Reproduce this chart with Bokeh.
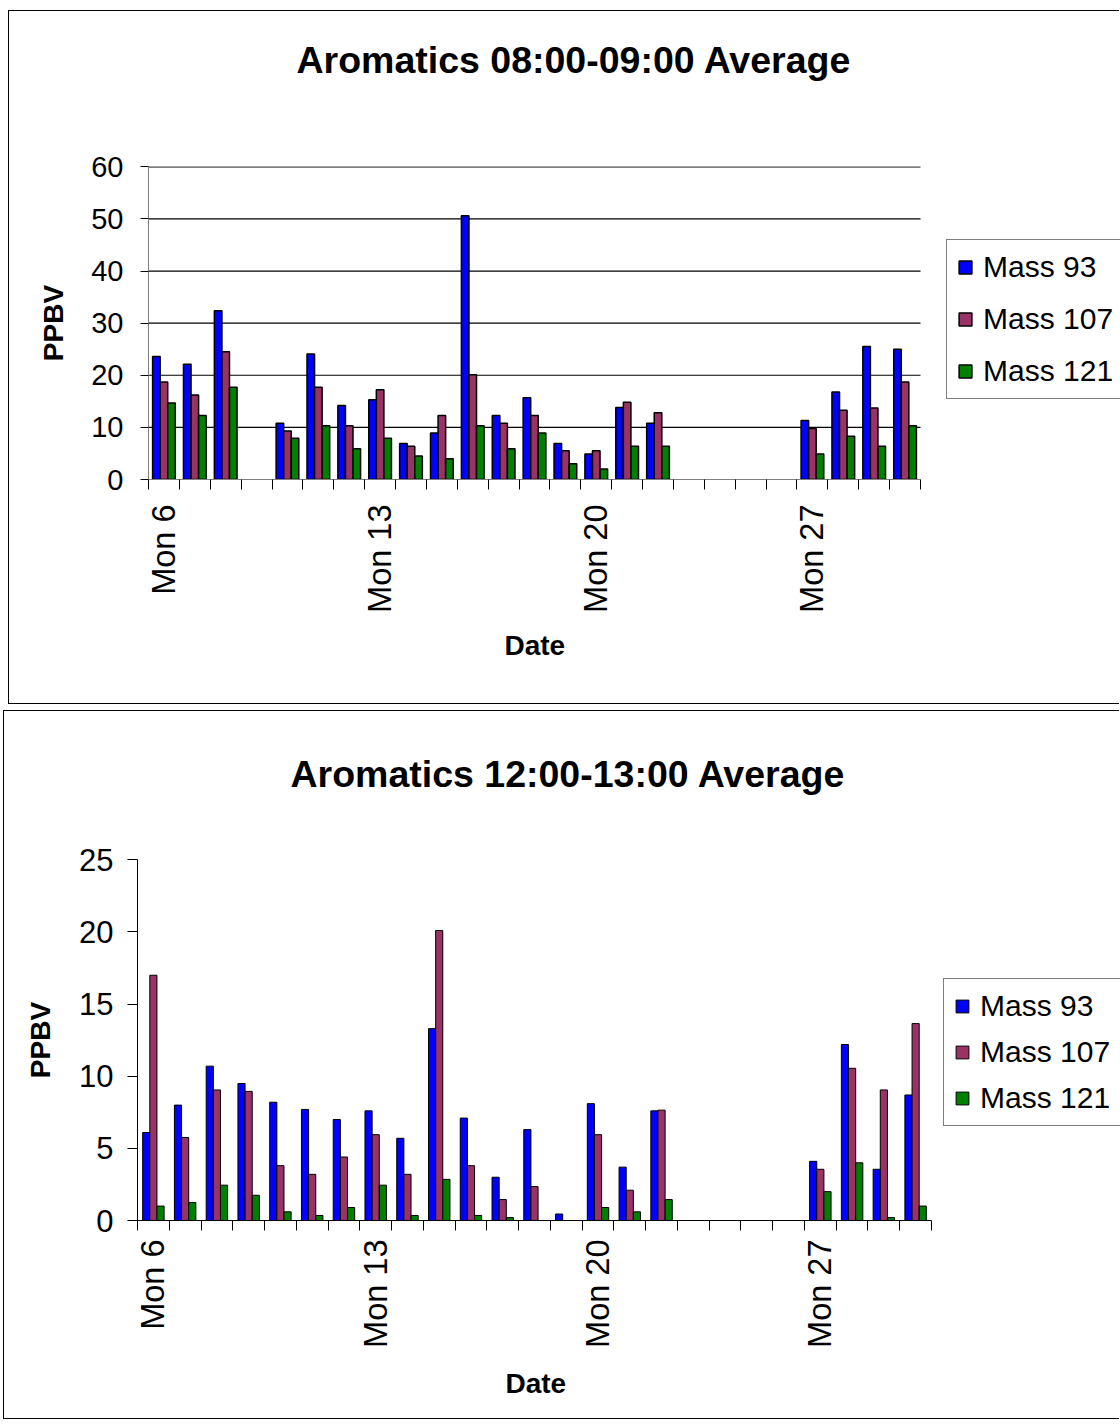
import math

from bokeh.embed import file_html
from bokeh.layouts import column
from bokeh.models import (ColumnDataSource, FixedTicker, Legend, LegendItem,
                          Range1d, Title)
from bokeh.plotting import figure
from bokeh.resources import INLINE

# ---- data -------------------------------------------------------------
days = list(range(6, 31))
tick_days = [6, 13, 20, 27]
tick_labels = ["Mon 6", "Mon 13", "Mon 20", "Mon 27"]
series_names = ["Mass 93", "Mass 107", "Mass 121"]
series_colors = ["#0000FF", "#993366", "#008000"]

# 08:00-09:00 hourly averages, PPBV (None = no measurement that day)
am_mass93 = [23.6, 22.1, 32.4, None, 10.8, 24.1, 14.2, 15.3, 6.9, 8.9, 50.6,
             12.3, 15.7, 6.9, 4.9, 13.8, 10.8, None, None, None, None,
             11.3, 16.8, 25.5, 25.0]
am_mass107 = [18.7, 16.2, 24.5, None, 9.3, 17.7, 10.3, 17.2, 6.4, 12.3, 20.1,
              10.8, 12.3, 5.5, 5.5, 14.8, 12.8, None, None, None, None,
              9.8, 13.3, 13.7, 18.7]
am_mass121 = [14.7, 12.3, 17.7, None, 7.9, 10.3, 5.9, 7.9, 4.5, 4.0, 10.3,
              5.9, 8.9, 3.0, 2.0, 6.4, 6.4, None, None, None, None,
              4.9, 8.3, 6.4, 10.3]

# 12:00-13:00 hourly averages, PPBV
pm_mass93 = [6.1, 8.0, 10.7, 9.5, 8.2, 7.7, 7.0, 7.6, 5.7, 13.3, 7.1,
             3.0, 6.3, 0.45, 8.1, 3.7, 7.6, None, None, None, None,
             4.1, 12.2, 3.55, 8.7]
pm_mass107 = [17.0, 5.75, 9.05, 8.95, 3.8, 3.2, 4.4, 5.95, 3.2, 20.1, 3.8,
              1.45, 2.35, None, 5.95, 2.1, 7.65, None, None, None, None,
              3.55, 10.55, 9.05, 13.65]
pm_mass121 = [1.0, 1.25, 2.45, 1.75, 0.6, 0.35, 0.9, 2.45, 0.35, 2.85, 0.35,
              0.2, None, None, 0.9, 0.6, 1.45, None, None, None, None,
              2.0, 4.0, 0.2, 1.0]

FONT = "Liberation Sans"


def make_panel(title, series, ymax, ystep, *, width, height, left, top,
               bottom, axis_px, margin, bar_w, bar_line, grid, axis_color,
               title_offset, title_gap, legend_xy, legend_spacing, tick_font,
               ylabel_standoff, tick_out, ytick_standoff, xtick_standoff,
               date_offset, date_gap):
    x0, x1 = days[0] - 0.5, days[-1] + 0.5
    # the plot area runs to the right edge so the legend can sit beside the
    # day axis; the axis itself is bounded to the measured days
    frame_w = width - left
    x_end = x0 + (x1 - x0) * frame_w / axis_px
    p = figure(width=width, height=height, output_backend="svg",
               toolbar_location=None, tools="",
               x_range=Range1d(x0, x_end), y_range=Range1d(0, ymax * 1.001),
               min_border_left=left, min_border_right=0,
               min_border_top=top, min_border_bottom=bottom)
    p.frame_align = False
    p.margin = margin
    p.styles = {"border-left": "1px solid black",
                "border-top": "1px solid black",
                "border-bottom": "1px solid black"}
    p.outline_line_color = None
    p.background_fill_color = "white"
    p.border_fill_color = "white"

    # chart title, kept clear of the plot area by an empty spacer title
    p.title = Title(text=title, align="left", offset=title_offset,
                    vertical_align="bottom", standoff=10, text_font=FONT,
                    text_font_size="37.5px", text_font_style="bold",
                    text_color="black")
    p.add_layout(Title(text=" ", text_font_size="1px", standoff=title_gap),
                 "above")

    yticks = list(range(0, ymax + 1, ystep))
    if grid:
        gl = [t for t in yticks if t > 0]
        p.segment(x0=[x0] * len(gl), x1=[x1] * len(gl), y0=gl, y1=gl,
                  line_color="black", line_width=1.2)

    items = []
    for k, (name, color, vals) in enumerate(zip(series_names, series_colors, series)):
        xs, tops = [], []
        for d, v in zip(days, vals):
            if v is not None:
                xs.append(d + (k - 1) * bar_w)
                tops.append(v)
        src = ColumnDataSource(dict(x=xs, top=tops))
        r = p.vbar(x="x", top="top", bottom=0, width=bar_w, source=src,
                   fill_color=color, line_color="black", line_width=bar_line)
        items.append(LegendItem(label=name, renderers=[r]))

    legend = Legend(items=items, location=legend_xy, orientation="vertical",
                    label_text_font=FONT, label_text_font_size="30px",
                    label_text_color="black", glyph_width=16, glyph_height=16,
                    label_standoff=10, spacing=legend_spacing, padding=10,
                    margin=0, border_line_color="black", border_line_width=1,
                    background_fill_color="white", background_fill_alpha=1)
    p.add_layout(legend)

    # x axis: a tick between every day, labels on Mondays
    xa = p.xaxis[0]
    xa.bounds = (x0, x1)
    xa.ticker = FixedTicker(ticks=tick_days,
                            minor_ticks=[d - 0.5 for d in days] + [x1])
    xa.major_label_overrides = {d: lab for d, lab in zip(tick_days, tick_labels)}
    xa.major_label_orientation = math.pi / 2
    xa.major_tick_out = 0
    xa.major_tick_in = 0
    xa.minor_tick_out = 10
    xa.minor_tick_in = 0
    xa.minor_tick_line_color = "black"
    xa.axis_line_color = axis_color
    xa.major_label_text_font = FONT
    xa.major_label_text_font_size = "32.5px"
    xa.major_label_text_color = "black"
    xa.major_label_standoff = xtick_standoff

    # "Date" caption centred under the day axis
    p.add_layout(Title(text="Date", align="left", offset=date_offset,
                       vertical_align="top", standoff=date_gap,
                       text_font=FONT, text_font_size="28px",
                       text_font_style="bold", text_color="black"), "below")

    ya = p.yaxis[0]
    ya.ticker = FixedTicker(ticks=yticks)
    ya.major_tick_out = tick_out
    ya.major_tick_in = 0
    ya.minor_tick_line_color = None
    ya.major_tick_line_color = "black"
    ya.axis_line_color = axis_color
    ya.major_label_text_font = FONT
    ya.major_label_text_font_size = tick_font
    ya.major_label_text_color = "black"
    ya.major_label_standoff = ytick_standoff
    ya.axis_label = "PPBV"
    ya.axis_label_text_font = FONT
    ya.axis_label_text_font_size = "28px"
    ya.axis_label_text_font_style = "bold"
    ya.axis_label_text_color = "black"
    ya.axis_label_standoff = ylabel_standoff

    p.xgrid.grid_line_color = None
    p.ygrid.grid_line_color = None
    return p


morning = make_panel(
    "Aromatics 08:00-09:00 Average", [am_mass93, am_mass107, am_mass121],
    60, 10, width=1111, height=694, left=139, top=155, bottom=226,
    axis_px=772, margin=(10, 0, 0, 8), bar_w=0.245, bar_line=1.5, grid=True,
    axis_color="#808080", title_offset=148, title_gap=78,
    legend_xy=(798, 80), legend_spacing=18, tick_font="29px",
    ylabel_standoff=19, tick_out=8, ytick_standoff=17, xtick_standoff=15,
    date_offset=356, date_gap=28)

noon = make_panel(
    "Aromatics 12:00-13:00 Average", [pm_mass93, pm_mass107, pm_mass121],
    25, 5, width=1116, height=709, left=133, top=148, bottom=200,
    axis_px=794, margin=(6, 0, 0, 3), bar_w=0.225, bar_line=1.0, grid=False,
    axis_color="black", title_offset=153, title_gap=57,
    legend_xy=(806, 94), legend_spacing=12, tick_font="31px",
    ylabel_standoff=20, tick_out=10, ytick_standoff=14, xtick_standoff=9,
    date_offset=368, date_gap=34)

layout = column(morning, noon, spacing=0)

with open("out.html", "w") as f:
    f.write(file_html(layout, INLINE))
